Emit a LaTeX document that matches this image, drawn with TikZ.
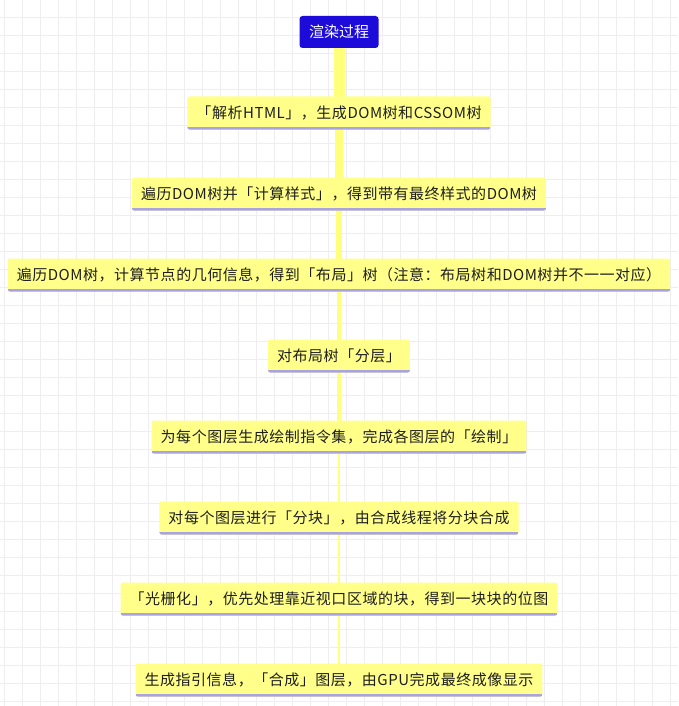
\documentclass[tikz,border=0pt]{standalone}
\usepackage{fontspec}
\setmainfont{Noto Sans CJK SC}
\newfontfamily\stagefont[LetterSpace=3.5]{Noto Sans CJK SC}
\usetikzlibrary{positioning}
\definecolor{titleblue}{HTML}{1C0BD9}
\definecolor{boxyellow}{HTML}{FFFF8A}
\definecolor{spineyellow}{HTML}{FFFF7C}
\definecolor{underline}{HTML}{A9A2E3}
\definecolor{gridgray}{HTML}{EFECF2}
\pgfdeclarelayer{grid}
\pgfdeclarelayer{spine}
\pgfsetlayers{grid,spine,main}
\tikzset{
  title/.style = {rectangle, fill=titleblue, text=white, rounded corners=3pt, minimum width=79pt, minimum height=32pt, font=\fontsize{15}{18}\selectfont},
  stage/.style = {rectangle, fill=boxyellow, text=black!88, rounded corners=2pt, minimum height=33pt, inner xsep=9pt, font=\stagefont\fontsize{15}{18}\selectfont,
    path picture={\draw[underline, line width=5pt] (path picture bounding box.south west) -- (path picture bounding box.south east);}},
  spine/.style = {draw=spineyellow},
  gridline/.style = {draw=gridgray, line width=0.7pt}
}

\begin{document}
\begin{tikzpicture}[x=1pt, y=1pt, node distance=81pt]
    \useasboundingbox (0,0) rectangle (678,-706);
    % background grid
    \begin{pgfonlayer}{grid}
    \fill[white] (0,0) rectangle (678,-706);
    \foreach \gx in {4,22,...,676} \path[gridline] (\gx,0) -- (\gx,-706);
    \foreach \gy in {-17,-35,...,-706} \path[gridline] (0,\gy) -- (678,\gy);
    \end{pgfonlayer}

    \node [title] (root) at (339,-32) {渲染过程};
    \node [stage, below of=root] (parse) {「解析HTML」，生成DOM树和CSSOM树};
    \node [stage, below of=parse] (style) {遍历DOM树并「计算样式」，得到带有最终样式的DOM树};
    \node [stage, below of=style] (layout) {遍历DOM树，计算节点的几何信息，得到「布局」树（注意：布局树和DOM树并不一一对应）};
    \node [stage, below of=layout] (layer) {对布局树「分层」};
    \node [stage, below of=layer] (paint) {为每个图层生成绘制指令集，完成各图层的「绘制」};
    \node [stage, below of=paint] (tile) {对每个图层进行「分块」，由合成线程将分块合成};
    \node [stage, below of=tile] (raster) {「光栅化」，优先处理靠近视口区域的块，得到一块块的位图};
    \node [stage, below of=raster] (composite) {生成指引信息，「合成」图层，由GPU完成最终成像显示};

    % tapering spine
    \begin{pgfonlayer}{spine}
    \foreach \a/\b/\w in {root/parse/11, parse/style/8.5, style/layout/6.5, layout/layer/4.5, layer/paint/3.2, paint/tile/2.6, tile/raster/2.3, raster/composite/2}
        \path [spine, line width=\w pt] (\a.center) -- (\b.center);
    \end{pgfonlayer}
\end{tikzpicture}
\end{document}
